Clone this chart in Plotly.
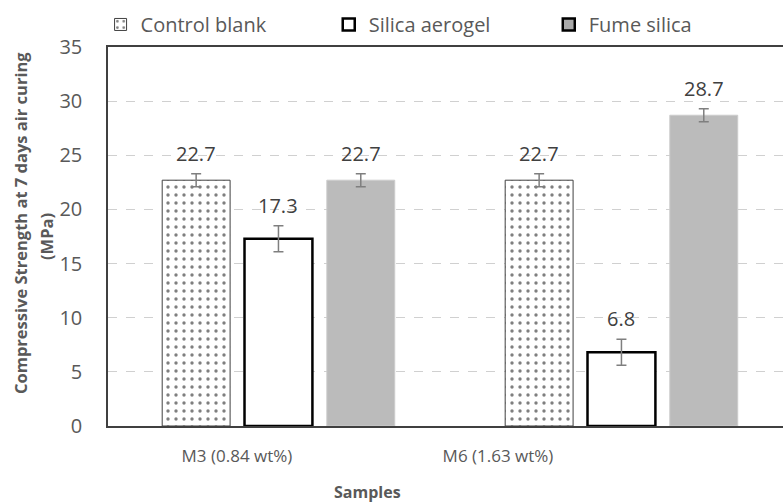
import plotly.graph_objects as go

# Sample groups and series
samples = ["M3 (0.84 wt%)", "M6 (1.63 wt%)"]
series_names = ["Control blank", "Silica aerogel", "Fume silica"]
control_blank = [22.7, 22.7]
silica_aerogel = [17.3, 6.8]
fume_silica = [22.7, 28.7]
control_err = [0.6, 0.6]
aerogel_err = [1.2, 1.2]
fume_err = [0.6, 0.6]
y_ticks = [0, 5, 10, 15, 20, 25, 30, 35]
y_title_lines = ["Compressive Strength at 7 days air curing", "(MPa)"]

FONT = "Open Sans"
TICK_COLOR = "#595959"
LABEL_COLOR = "#404040"

W, H = 783, 503
L, R, T, B = 108, 0, 47, 77
PW, PH = W - L - R, H - T - B

group_pos = list(range(len(samples)))
slot = 0.24      # spacing between bar centres inside a group
bar_w = 0.198    # bar width in category units

dots = dict(shape=".", fgcolor="black", bgcolor="white", size=8, solidity=0.14)
bar_styles = [
    dict(color="white", line=dict(color="#404040", width=1), pattern=dots),
    dict(color="white", line=dict(color="black", width=2.5)),
    dict(color="#BBBBBB", line=dict(color="#CCCCCC", width=1)),
]
# legend swatches (the fume silica swatch carries a dark outline)
legend_styles = [
    dict(color="white", line=dict(color="#404040", width=1), pattern=dots),
    dict(color="white", line=dict(color="black", width=2.5)),
    dict(color="#AAAAAA", line=dict(color="black", width=2.5)),
]
legend_ids = ["legend", "legend2", "legend3"]
legend_x = [-0.011, 0.327, 0.653]

values = [control_blank, silica_aerogel, fume_silica]
errors = [control_err, aerogel_err, fume_err]

fig = go.Figure()
annotations = []
for i, (name, vals, errs) in enumerate(zip(series_names, values, errors)):
    shift = (i - 1) * slot
    fig.add_trace(go.Bar(
        name=name, x=group_pos, y=vals,
        width=bar_w, offset=shift - bar_w / 2,
        error_y=dict(type="data", array=errs, color="#7F7F7F",
                     thickness=1.5, width=5),
        marker=bar_styles[i], showlegend=False,
    ))
    # legend entry
    fig.add_trace(go.Bar(
        name=name, x=[None], y=[None], marker=legend_styles[i],
        legend=legend_ids[i], showlegend=True, hoverinfo="skip",
    ))
    for g, v, e in zip(group_pos, vals, errs):
        annotations.append(dict(
            x=g + shift, y=v + e, xref="x", yref="y",
            text=f"{v:.1f}", showarrow=False, yanchor="bottom", yshift=5,
            font=dict(family=FONT, size=20, color=LABEL_COLOR),
        ))

# y-axis title, one rotated annotation per line (pixel anchors -> paper coords)
for text, px, py in zip(y_title_lines, [20, 46], [223, 237]):
    annotations.append(dict(
        text=f"<b>{text}</b>", xref="paper", yref="paper",
        x=(px - L) / PW, y=(H - B - py) / PH, xanchor="center", yanchor="middle",
        textangle=-90, showarrow=False,
        font=dict(family=FONT, size=16.5, color=TICK_COLOR),
    ))

# x-axis title
annotations.append(dict(
    text="<b>Samples</b>", xref="paper", yref="paper",
    x=(367 - L) / PW, y=-(492 - (H - B)) / PH, xanchor="center", yanchor="middle",
    showarrow=False, font=dict(family=FONT, size=16, color=TICK_COLOR)))

# Category label positions along the axis
label_pos = [-0.121, 0.640]

legend_common = dict(orientation="h", xanchor="left", y=1.008, yanchor="bottom",
                     font=dict(family=FONT, size=20, color=TICK_COLOR),
                     itemwidth=30, bgcolor="rgba(0,0,0,0)")

fig.update_layout(
    width=W, height=H,
    margin=dict(l=L, r=R, t=T, b=B, autoexpand=False),
    plot_bgcolor="white", paper_bgcolor="white",
    barmode="overlay",
    font=dict(family=FONT, color=TICK_COLOR),
    showlegend=True,
    legend=dict(x=legend_x[0], **legend_common),
    legend2=dict(x=legend_x[1], **legend_common),
    legend3=dict(x=legend_x[2], **legend_common),
    annotations=annotations,
    xaxis=dict(range=[-0.497, 1.471], tickmode="array", tickvals=label_pos,
               ticktext=samples, showgrid=False, zeroline=False,
               showline=True, linecolor="#404040", linewidth=1.5, mirror=True,
               ticks="", ticklabelstandoff=14,
               tickfont=dict(family=FONT, size=17, color=TICK_COLOR)),
    yaxis=dict(range=[0, 35], tickmode="array", tickvals=y_ticks,
               showgrid=True, gridcolor="#D0D0D0", griddash="dash", gridwidth=1,
               zeroline=False, showline=True, linecolor="#404040", linewidth=1.5,
               ticks="", ticklabelstandoff=20,
               tickfont=dict(family=FONT, size=20, color=TICK_COLOR)),
)

fig.write_html("out.html")
